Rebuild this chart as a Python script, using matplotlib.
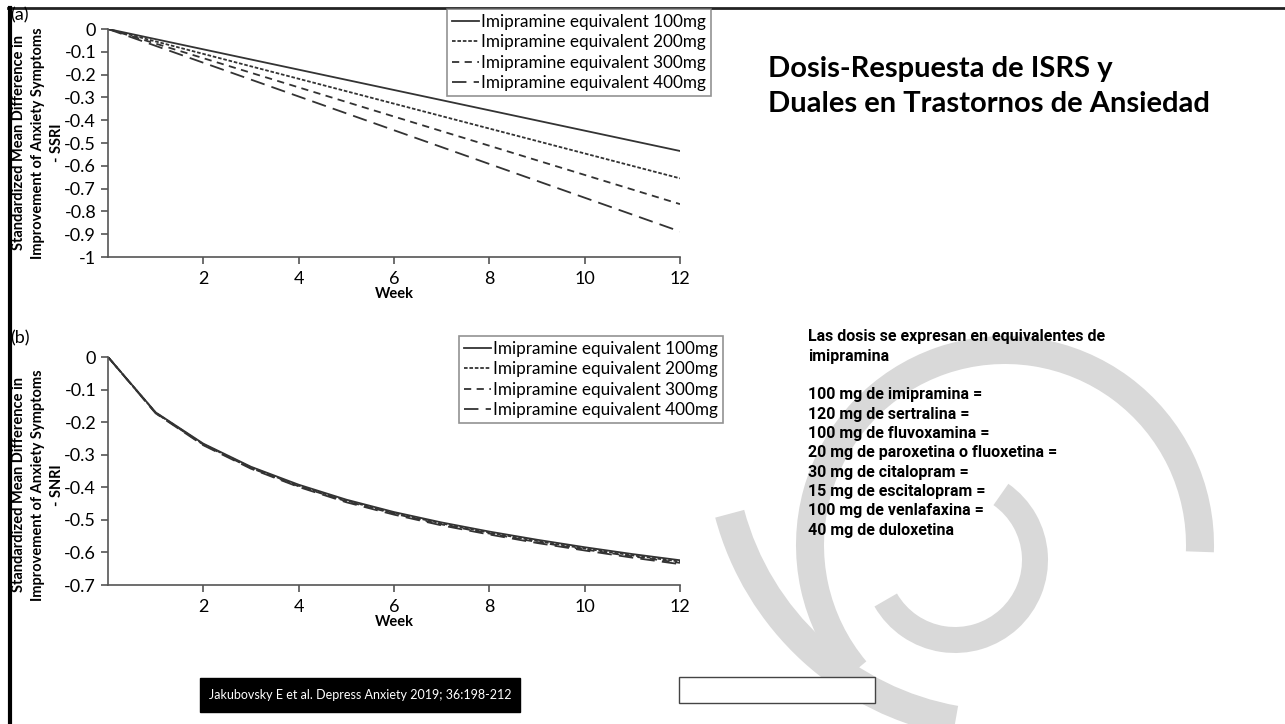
import numpy as np
import matplotlib.pyplot as plt
from matplotlib.patches import Wedge, Rectangle

W, H = 1285, 724

weeks_a = [0, 12]
ssri_100 = [0, -0.535]
ssri_200 = [0, -0.655]
ssri_300 = [0, -0.768]
ssri_400 = [0, -0.888]

weeks_b = [0, 1, 2, 3, 4, 5, 6, 7, 8, 9, 10, 11, 12]
snri_100 = [0, -0.170, -0.266, -0.337, -0.392, -0.438, -0.476, -0.508, -0.536, -0.561, -0.584, -0.605, -0.624]
snri_200 = [0, -0.171, -0.268, -0.339, -0.395, -0.441, -0.479, -0.511, -0.539, -0.565, -0.588, -0.609, -0.628]
snri_300 = [0, -0.172, -0.269, -0.341, -0.397, -0.443, -0.481, -0.514, -0.542, -0.568, -0.591, -0.612, -0.632]
snri_400 = [0, -0.173, -0.271, -0.343, -0.399, -0.446, -0.484, -0.517, -0.545, -0.571, -0.594, -0.616, -0.636]

labels = ["Imipramine equivalent 100mg", "Imipramine equivalent 200mg",
          "Imipramine equivalent 300mg", "Imipramine equivalent 400mg"]
styles = ["-", (0, (2, 1)), (0, (4, 3)), (0, (8, 4))]

title_lines = ["Dosis-Respuesta de ISRS y", "Duales en Trastornos de Ansiedad"]
note_lines = ["Las dosis se expresan en equivalentes de", "imipramina", "",
              "100 mg de imipramina =", "120 mg de sertralina =",
              "100 mg de fluvoxamina =", "20 mg de paroxetina o fluoxetina =",
              "30 mg de citalopram =", "15 mg de escitalopram =",
              "100 mg de venlafaxina =", "40 mg de duloxetina"]
citation = "Jakubovsky E et al. Depress Anxiety 2019; 36:198-212"

plt.rcParams['font.family'] = ['Lato', 'DejaVu Sans']

fig = plt.figure(figsize=(W / 100, H / 100), dpi=100)


def box(x0, y0, x1, y1):
    # pixel box (top-left origin) -> figure fraction rect
    return [x0 / W, 1 - y1 / H, (x1 - x0) / W, (y1 - y0) / H]


def fx(x):
    return x / W


def fy(y):
    return 1 - y / H


# background decoration (gray swirl), pixel coords, y down
bg = fig.add_axes([0, 0, 1, 1], zorder=0)
bg.set_xlim(0, W)
bg.set_ylim(H, 0)
bg.axis("off")
gray = "#d9d9d9"
bg.add_patch(Wedge((1005, 440), 300, 100, 165, width=30, color=gray, lw=0))
bg.add_patch(Wedge((1005, 545), 209, 140, 362, width=28, color=gray, lw=0))
bg.add_patch(Wedge((955, 560), 93, -55, 150, width=26, color=gray, lw=0))

# slide frame
bg.plot([8, W], [8, 8], color="#222222", lw=2)
bg.plot([9.5, 9.5], [8, H], color="black", lw=3)

# citation and empty box
bg.add_patch(Rectangle((200, 678), 320, 34, color="black", zorder=3))
bg.text(360, 695, citation, color="white", fontsize=9, ha="center", va="center",
        zorder=4)
bg.add_patch(Rectangle((679, 677), 196, 26, facecolor="white", edgecolor="#444444",
                       lw=1, zorder=3))

ax_col = "#555555"
line_col = "#333333"


def style_ax(ax, ymin, yticks):
    ax.set_facecolor("none")
    ax.set_xlim(0, 12)
    ax.set_ylim(ymin, 0)
    ax.set_xticks([2, 4, 6, 8, 10, 12])
    ax.set_yticks(yticks)
    ax.set_yticklabels([("%g" % t) for t in yticks])
    for s in ["top", "right"]:
        ax.spines[s].set_visible(False)
    for s in ["left", "bottom"]:
        ax.spines[s].set_color(ax_col)
        ax.spines[s].set_linewidth(1.2)
    ax.tick_params(colors=ax_col, labelcolor="black", labelsize=13, length=5,
                   width=1.2, direction="out")
    ax.tick_params(axis="x", pad=5)


panels = [
    (box(108, 29, 680, 257), weeks_a, [ssri_100, ssri_200, ssri_300, ssri_400], -1,
     np.round(np.arange(0, -1.01, -0.1), 1), "SSRI", (447, 9), "(a)", 15, 143),
    (box(108, 357, 680, 585), weeks_b, [snri_100, snri_200, snri_300, snri_400], -0.7,
     np.round(np.arange(0, -0.71, -0.1), 1), "SNRI", (459, 336), "(b)", 338, 485),
]

for rect, xs, series, ymin, yticks, drug, (lx, ly), tag, tag_y, lab_y in panels:
    ax = fig.add_axes(rect, zorder=2)
    for ys, ls, lab in zip(series, styles, labels):
        ax.plot(xs, ys, color=line_col, lw=1.3, linestyle=ls, label=lab)
    style_ax(ax, ymin, yticks)
    leg = ax.legend(loc="upper left", bbox_to_anchor=(fx(lx), fy(ly)),
                    bbox_transform=fig.transFigure, fontsize=12.3, frameon=True,
                    fancybox=False, edgecolor="#777777", borderaxespad=0,
                    handlelength=1.6, handletextpad=0.1, labelspacing=0.25,
                    borderpad=0.3)
    leg.get_frame().set_linewidth(1.2)
    axis_bottom = (1 - rect[1]) * H
    fig.text(fx(394), fy(axis_bottom + 37), "Week", fontsize=10.5,
             fontweight="bold", ha="center", va="center")
    fig.text(fx(38), fy(lab_y),
             "Standardized Mean Difference in\nImprovement of Anxiety Symptoms\n- " + drug,
             fontsize=10.5, fontweight="bold", rotation=90, ha="center", va="center",
             multialignment="center", linespacing=1.45)
    fig.text(fx(10), fy(tag_y), tag, fontsize=13, va="center", ha="left")

# title and dose notes
for i, ln in enumerate(title_lines):
    fig.text(fx(768), fy(77 + i * 35), ln, fontsize=21, fontweight="bold",
             va="baseline", ha="left")
for i, ln in enumerate(note_lines):
    fig.text(fx(808), fy(337 + i * 19.3), ln, fontsize=11.5, fontweight="bold",
             family=["Roboto", "DejaVu Sans"], va="center", ha="left")

fig.savefig("out.png", dpi=100)
